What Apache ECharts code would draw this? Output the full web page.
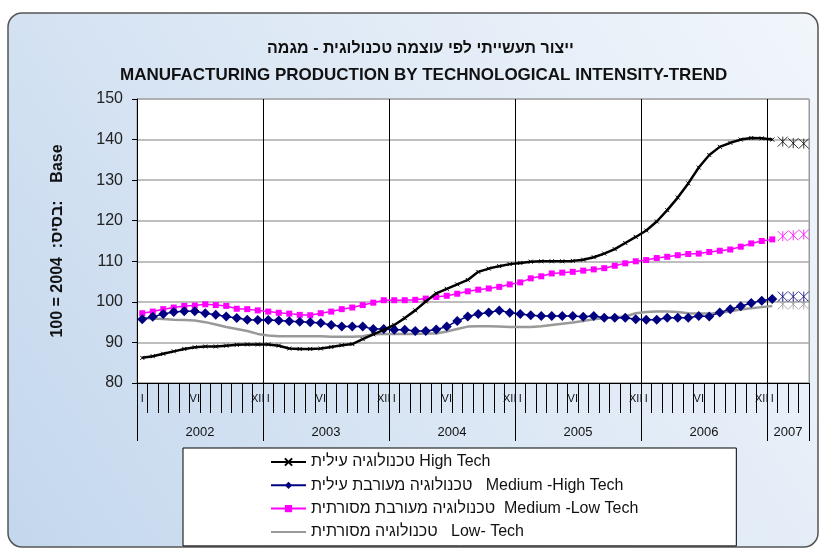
<!DOCTYPE html>
<html><head><meta charset="utf-8">
<script src="https://cdn.jsdelivr.net/npm/echarts@6/dist/echarts.min.js"></script>
<style>html,body{margin:0;padding:0;background:#fff}#c{width:823px;height:549px}</style>
</head><body><div id="c"></div>
<script>
// ---- data ----
const years = ['2002', '2003', '2004', '2005', '2006', '2007'];
const monthNumerals = ['I','II','III','IV','V','VI','VII','VIII','IX','X','XI','XII'];
const monthsInLastYear = 4;
const shownMonthLabels = ['I', 'VI', 'XII'];

const seriesNames = [
  'טכנולוגיה עילית High Tech',
  'טכנולוגיה מעורבת עילית   Medium -High Tech',
  'טכנולוגיה מעורבת מסורתית  Medium -Low Tech',
  'טכנולוגיה מסורתית   Low- Tech'
];

const highTech = [
  86.2, 86.6, 87.2, 87.8, 88.4, 88.8, 89.0, 89.0, 89.2, 89.4,
  89.5, 89.5, 89.5, 89.2, 88.5, 88.4, 88.4, 88.5, 88.9, 89.3,
  89.6, 90.8, 92.0, 93.1, 94.3, 96.0, 97.9, 100.1, 102.1, 103.2,
  104.3, 105.4, 107.4, 108.2, 108.8, 109.3, 109.6, 109.9, 110.0, 110.0,
  110.0, 110.1, 110.4, 111.0, 111.9, 113.0, 114.5, 116.0, 117.6, 119.8,
  122.6, 125.7, 129.2, 133.1, 136.2, 138.2, 139.2, 140.0, 140.4, 140.3,
  140.0
];
const highTechForecast = [139.5, 139.1, 139.0];

const mediumHigh = [
  95.7, 96.3, 97.0, 97.5, 97.7, 97.7, 97.2, 96.8, 96.4, 96.0,
  95.6, 95.5, 95.5, 95.4, 95.2, 95.1, 95.0, 94.8, 94.3, 93.9,
  93.9, 93.9, 93.3, 93.3, 93.1, 93.1, 92.8, 92.8, 93.2, 93.9,
  95.3, 96.4, 97.0, 97.4, 97.9, 97.3, 97.0, 96.7, 96.5, 96.5,
  96.5, 96.5, 96.3, 96.5, 96.1, 96.1, 96.1, 95.7, 95.6, 95.6,
  96.1, 96.1, 96.1, 96.5, 96.4, 97.4, 98.2, 98.9, 99.7, 100.3,
  100.7
];
const mediumHighForecast = [101.3, 101.3, 101.3];

const mediumLow = [
  97.2, 97.6, 98.2, 98.6, 99.0, 99.1, 99.4, 99.2, 99.0, 98.3,
  98.2, 97.9, 97.6, 97.3, 97.1, 96.8, 96.7, 97.2, 97.6, 98.2,
  98.6, 99.2, 99.8, 100.4, 100.4, 100.4, 100.5, 100.8, 101.2, 101.5,
  102.0, 102.6, 103.0, 103.3, 103.7, 104.3, 104.8, 105.8, 106.3, 107.0,
  107.2, 107.4, 107.7, 108.0, 108.3, 108.9, 109.5, 110.0, 110.3, 110.8,
  111.1, 111.5, 111.8, 111.9, 112.3, 112.6, 112.9, 113.6, 114.4, 115.0,
  115.4
];
const mediumLowForecast = [116.2, 116.4, 116.6];

const lowTech = [
  96.0, 95.9, 95.8, 95.6, 95.5, 95.4, 95.0, 94.4, 93.8, 93.3,
  92.8, 92.1, 91.7, 91.5, 91.5, 91.5, 91.5, 91.5, 91.4, 91.4,
  91.4, 91.5, 92.0, 92.1, 92.1, 92.1, 92.1, 92.2, 92.2, 92.7,
  93.3, 93.9, 94.0, 94.0, 93.9, 93.8, 93.8, 93.8, 94.0, 94.3,
  94.6, 94.9, 95.3, 95.7, 96.0, 96.2, 96.4, 97.2, 97.5, 97.6,
  97.6, 97.5, 97.2, 97.1, 97.1, 97.3, 97.7, 98.1, 98.4, 98.7,
  99.0
];
const lowTechForecast = [99.4, 99.4, 99.4];

const yMin = 80, yMax = 150, yStep = 10;

// ---- build categories ----
const categories = [];
const yearLabelAt = {};
const yearStartIdx = [];
years.forEach((y, k) => {
  const n = (k === years.length - 1) ? monthsInLastYear : 12;
  yearStartIdx.push(categories.length);
  yearLabelAt[categories.length + Math.floor(n / 2)] = y;
  for (let m = 0; m < n; m++) categories.push(monthNumerals[m]);
});
const yearStartSet = new Set(yearStartIdx);

function withForecast(actual, forecast) {
  return { line: actual.concat(forecast.map(() => '-')),
           fc: actual.map(() => '-').concat(forecast) };
}
const hT = withForecast(highTech, highTechForecast);
const mH = withForecast(mediumHigh, mediumHighForecast);
const mL = withForecast(mediumLow, mediumLowForecast);
const lT = withForecast(lowTech, lowTechForecast);

const STAR = 'path://M0,0L10,10M10,0L0,10M5,0L5,10';
const XMARK = 'path://M0,0L10,10M10,0L0,10';
const FONT = 'Arial, "Liberation Sans", sans-serif';

const chart = echarts.init(document.getElementById('c'), null, {renderer: 'canvas'});

function fcSeries(data, color) {
  return {
    type: 'scatter', data: data, symbol: STAR, symbolSize: 10,
    itemStyle: { color: 'none', borderColor: color, borderWidth: 1 },
    silent: true, z: 5
  };
}

const splitColors = yearStartIdx.map(() => '#000').concat(['#9a9a9a']);

chart.setOption({
  animation: false,
  backgroundColor: '#fff',
  graphic: [{
    type: 'rect', z: -10,
    shape: { x: 8, y: 13, width: 810, height: 534, r: 14 },
    style: {
      fill: new echarts.graphic.LinearGradient(0, 1, 1, 0, [
        { offset: 0, color: '#c3d7ed' },
        { offset: 0.5, color: '#dde8f5' },
        { offset: 1, color: '#f1f6fb' }
      ]),
      stroke: '#555', lineWidth: 1.5
    }
  }],
  title: [
    { text: 'ייצור תעשייתי לפי עוצמה טכנולוגית - מגמה', left: 262, top: 36,
      textStyle: { fontFamily: FONT, fontSize: 16, fontWeight: 'bold', color: '#111' } },
    { text: 'MANUFACTURING PRODUCTION BY TECHNOLOGICAL INTENSITY-TREND', left: 115, top: 62,
      textStyle: { fontFamily: FONT, fontSize: 17, fontWeight: 'bold', color: '#111' } }
  ],
  legend: {
    data: [
      { name: seriesNames[0] },
      { name: seriesNames[1] },
      { name: seriesNames[2] },
      { name: seriesNames[3], itemStyle: { opacity: 0 } }
    ],
    orient: 'vertical',
    left: 183, top: 448,
    padding: [6, 98, 6, 87],
    itemGap: 7.3, itemWidth: 35, itemHeight: 9,
    backgroundColor: '#fff', borderColor: '#000', borderWidth: 1, borderRadius: 0,
    textStyle: { fontFamily: FONT, fontSize: 16, lineHeight: 16, color: '#111' },
    selectedMode: false
  },
  grid: { left: 137, top: 99, width: 672, height: 284, show: true,
          backgroundColor: '#fff', borderColor: '#9a9a9a', borderWidth: 1 },
  xAxis: [
    {
      type: 'category', data: categories, boundaryGap: true, position: 'bottom',
      axisLine: { show: true, lineStyle: { color: '#000', width: 1 } },
      axisTick: { show: true, interval: 0, length: 30, lineStyle: { color: '#000', width: 1 } },
      axisLabel: {
        interval: 0, margin: 10, fontFamily: FONT, fontSize: 11, color: '#111',
        formatter: (v) => shownMonthLabels.includes(v) ? v : ''
      },
      splitLine: { show: true, interval: (i) => yearStartSet.has(i),
                   lineStyle: { color: splitColors, width: 1 } }
    },
    {
      type: 'category', data: categories, boundaryGap: true, position: 'bottom',
      axisLine: { show: false },
      axisTick: { show: true, interval: (i) => yearStartSet.has(i), length: 58,
                  lineStyle: { color: '#000', width: 1 } },
      axisLabel: {
        interval: 0, margin: 43, fontFamily: FONT, fontSize: 13, color: '#111',
        padding: [0, 10.5, 0, 0],
        formatter: (v, i) => yearLabelAt[i] || ''
      },
      splitLine: { show: false }
    }
  ],
  yAxis: {
    type: 'value', min: yMin, max: yMax, interval: yStep,
    name: '100 = 2004  :בסיס:    Base', nameLocation: 'middle', nameGap: 71,
    nameTextStyle: { fontFamily: FONT, fontSize: 16, fontWeight: 'bold', color: '#111' },
    axisLine: { show: true, lineStyle: { color: '#000', width: 1 } },
    axisTick: { show: true, length: 5, lineStyle: { color: '#000' } },
    axisLabel: { margin: 14, fontFamily: FONT, fontSize: 16, color: '#222' },
    splitLine: { show: true, lineStyle: { color: '#a8a8a8', width: 1.5 } }
  },
  series: [
    { name: seriesNames[3], type: 'line', data: lT.line, symbol: 'none', z: 2,
      lineStyle: { color: '#999999', width: 2.5 }, itemStyle: { color: '#999999' } },
    { name: seriesNames[2], type: 'line', data: mL.line, symbol: 'rect', symbolSize: 6, z: 3,
      lineStyle: { color: '#ff00ff', width: 1.5 }, itemStyle: { color: '#ff00ff' } },
    { name: seriesNames[1], type: 'line', data: mH.line, symbol: 'diamond', symbolSize: 10, z: 4,
      lineStyle: { color: '#000080', width: 1.5 }, itemStyle: { color: '#000080' } },
    { name: seriesNames[0], type: 'line', data: hT.line, symbol: XMARK, symbolSize: 4, z: 5,
      lineStyle: { color: '#000', width: 2.5 },
      itemStyle: { color: '#000', borderColor: '#000', borderWidth: 1 } },
    fcSeries(lT.fc, '#999999'),
    fcSeries(mL.fc, '#ff00ff'),
    fcSeries(mH.fc, '#000080'),
    fcSeries(hT.fc, '#000000')
  ]
});
</script></body></html>
